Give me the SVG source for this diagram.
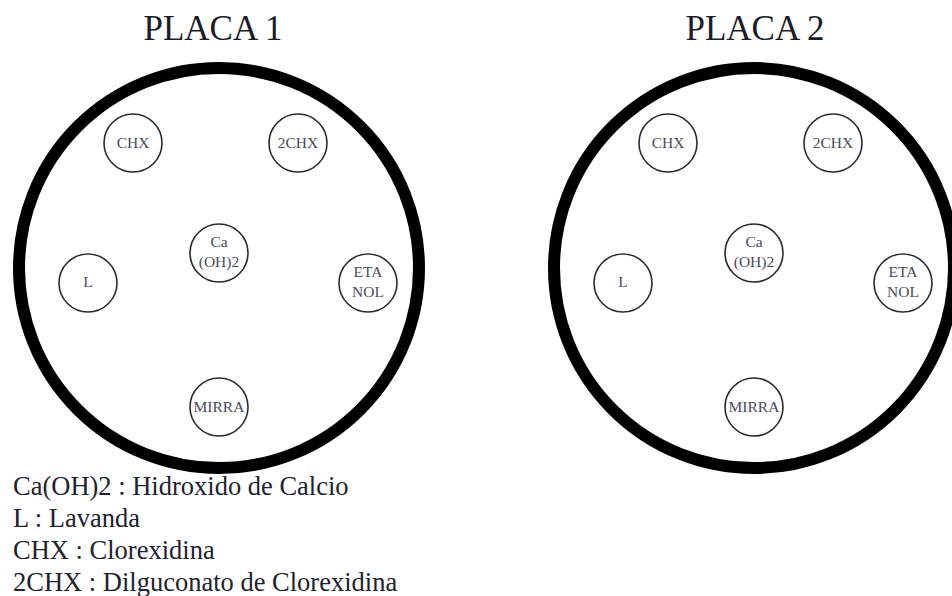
<svg xmlns="http://www.w3.org/2000/svg" width="952" height="596" viewBox="0 0 952 596">
  <style>
    .title { font-size: 35px; fill: #1c1c28; text-anchor: middle; }
    .plate { fill: none; stroke: #000; stroke-width: 12; }
    .well { fill: #fff; stroke: #2a2a2a; stroke-width: 1.6; }
    .lbl { font-size: 15.5px; fill: #4a4a5c; text-anchor: middle; }
    .legend { font-size: 26.5px; fill: #22222e; }
  </style>
  <defs>
    <!-- outer ring of a plate, centred on (0,0) -->
    <g id="plate-body">
      <circle class="plate" cx="0" cy="0" r="200"/>
    </g>
  </defs>
  <rect width="952" height="596" fill="#fff"/>

  <g font-family="Liberation Serif, DejaVu Serif, serif">
  <!-- PLACA 1 -->
  <g id="placa1">
    <text class="title" x="213" y="40">PLACA 1</text>
    <use href="#plate-body" x="219" y="268"/>
    <g id="p1-chx"><circle class="well" cx="133" cy="143" r="29"/><text class="lbl" x="133" y="148">CHX</text></g>
    <g id="p1-2chx"><circle class="well" cx="298" cy="143" r="29"/><text class="lbl" x="298" y="148">2CHX</text></g>
    <g id="p1-caoh2"><circle class="well" cx="219" cy="253" r="29"/><text class="lbl" x="219" y="247">Ca</text><text class="lbl" x="219" y="267">(OH)2</text></g>
    <g id="p1-l"><circle class="well" cx="88" cy="283" r="29"/><text class="lbl" x="88" y="287">L</text></g>
    <g id="p1-etanol"><circle class="well" cx="368" cy="283" r="29"/><text class="lbl" x="368" y="277">ETA</text><text class="lbl" x="368" y="297">NOL</text></g>
    <g id="p1-mirra"><circle class="well" cx="219" cy="407" r="29"/><text class="lbl" x="219" y="412">MIRRA</text></g>
  </g>

  <!-- PLACA 2 -->
  <g id="placa2">
    <text class="title" x="755" y="40">PLACA 2</text>
    <use href="#plate-body" x="754" y="268"/>
    <g id="p2-chx"><circle class="well" cx="668" cy="143" r="29"/><text class="lbl" x="668" y="148">CHX</text></g>
    <g id="p2-2chx"><circle class="well" cx="833" cy="143" r="29"/><text class="lbl" x="833" y="148">2CHX</text></g>
    <g id="p2-caoh2"><circle class="well" cx="754" cy="253" r="29"/><text class="lbl" x="754" y="247">Ca</text><text class="lbl" x="754" y="267">(OH)2</text></g>
    <g id="p2-l"><circle class="well" cx="623" cy="283" r="29"/><text class="lbl" x="623" y="287">L</text></g>
    <g id="p2-etanol"><circle class="well" cx="903" cy="283" r="29"/><text class="lbl" x="903" y="277">ETA</text><text class="lbl" x="903" y="297">NOL</text></g>
    <g id="p2-mirra"><circle class="well" cx="754" cy="407" r="29"/><text class="lbl" x="754" y="412">MIRRA</text></g>
  </g>

  <!-- no connectors in this drawing -->
  <g id="connectors"/>

  <!-- legend -->
  <g id="legend">
    <text class="legend" x="13" y="495">Ca(OH)2 : Hidroxido de Calcio</text>
    <text class="legend" x="13" y="527">L : Lavanda</text>
    <text class="legend" x="13" y="559">CHX : Clorexidina</text>
    <text class="legend" x="13" y="591">2CHX : Dilguconato de Clorexidina</text>
  </g>
  </g>
</svg>
